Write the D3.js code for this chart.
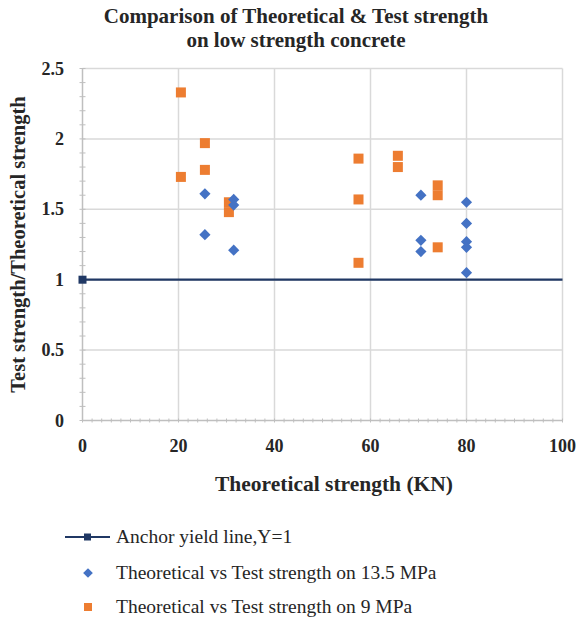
<!DOCTYPE html>
<html><head><meta charset="utf-8">
<script src="https://cdn.jsdelivr.net/npm/d3@7"></script>
<style>body{margin:0;background:#fff}svg{display:block}</style>
</head><body>
<script>
// Data
const blueX = [25.5, 25.5, 31.5, 31.5, 31.5, 70.5, 70.5, 70.5, 80, 80, 80, 80, 80];
const blueY = [1.61, 1.32, 1.57, 1.53, 1.21, 1.60, 1.28, 1.20, 1.55, 1.40, 1.27, 1.23, 1.05];
const orangeX = [20.5, 20.5, 25.5, 25.5, 30.5, 30.5, 57.5, 57.5, 57.5, 65.7, 65.7, 74, 74, 74];
const orangeY = [2.33, 1.73, 1.97, 1.78, 1.55, 1.48, 1.86, 1.57, 1.12, 1.88, 1.80, 1.67, 1.60, 1.23];
const lineX = [0, 100];
const lineY = [1, 1];
const xTicks = [0, 20, 40, 60, 80, 100];
const yTicks = [0, 0.5, 1, 1.5, 2, 2.5];
const legendLabels = ["Anchor yield line,Y=1", "Theoretical vs Test strength on 13.5 MPa", "Theoretical vs Test strength on 9 MPa"];

const W = 581, H = 620;
const svg = d3.select("body").append("svg").attr("width", W).attr("height", H);
const font = "'Times New Roman','Liberation Serif',serif";
const x = d3.scaleLinear().domain([0, 100]).range([82.5, 562.5]);
const y = d3.scaleLinear().domain([0, 2.5]).range([420.5, 68.5]);

// gridlines
svg.append("g").selectAll("line.v").data(xTicks.slice(1)).join("line")
  .attr("x1", d => x(d)).attr("x2", d => x(d)).attr("y1", y(0)).attr("y2", y(2.5))
  .attr("stroke", "#d9d9d9").attr("stroke-width", 1.5);
svg.append("g").selectAll("line.h").data(yTicks.slice(1)).join("line")
  .attr("x1", x(0)).attr("x2", x(100)).attr("y1", d => y(d)).attr("y2", d => y(d))
  .attr("stroke", "#d9d9d9").attr("stroke-width", 1.5);

// axes
const axisColor = "#bfbfbf";
const xMinor = d3.range(0, 100.001, 2);
const yMinor = d3.range(0, 2.5001, 0.1);
const ax = svg.append("g");
ax.append("line").attr("x1", x(0)).attr("x2", x(100)).attr("y1", y(0)).attr("y2", y(0)).attr("stroke", axisColor).attr("stroke-width", 1.5);
ax.append("line").attr("x1", x(0)).attr("x2", x(0)).attr("y1", y(0)).attr("y2", y(2.5)).attr("stroke", axisColor).attr("stroke-width", 1.5);
ax.selectAll("line.xm").data(xMinor).join("line")
  .attr("x1", d => x(d)).attr("x2", d => x(d)).attr("y1", y(0) - 2).attr("y2", y(0) + 2).attr("stroke", axisColor);
ax.selectAll("line.ym").data(yMinor).join("line")
  .attr("x1", x(0) - 3).attr("x2", x(0) + 3).attr("y1", d => y(d)).attr("y2", d => y(d)).attr("stroke", axisColor);

// tick labels
svg.append("g").selectAll("text").data(xTicks).join("text")
  .attr("x", d => x(d)).attr("y", 452).attr("text-anchor", "middle")
  .attr("font-family", font).attr("font-weight", "bold").attr("font-size", 18).attr("fill", "#262626")
  .text(d => d);
svg.append("g").selectAll("text").data(yTicks).join("text")
  .attr("x", 64).attr("y", d => y(d) + 6).attr("text-anchor", "end")
  .attr("font-family", font).attr("font-weight", "bold").attr("font-size", 18).attr("fill", "#262626")
  .text(d => d);

// titles
const title = svg.append("text").attr("text-anchor", "middle").attr("font-family", font)
  .attr("font-weight", "bold").attr("font-size", 21).attr("fill", "#262626");
title.append("tspan").attr("x", 296).attr("y", 23).text("Comparison of Theoretical & Test strength");
title.append("tspan").attr("x", 296).attr("y", 47).text("on low strength concrete");
svg.append("text").attr("x", 334).attr("y", 491).attr("text-anchor", "middle")
  .attr("font-family", font).attr("font-weight", "bold").attr("font-size", 21.5).attr("fill", "#262626")
  .text("Theoretical strength (KN)");
svg.append("text").attr("transform", `translate(25,${(y(0) + y(2.5)) / 2}) rotate(-90)`).attr("text-anchor", "middle")
  .attr("font-family", font).attr("font-weight", "bold").attr("font-size", 20.5).attr("fill", "#262626")
  .text("Test strength/Theoretical strength");

// yield line
const navy = "#203864";
const lineData = lineX.map((d, i) => [d, lineY[i]]);
svg.append("path").datum(lineData)
  .attr("d", d3.line().x(d => x(d[0])).y(d => y(d[1])))
  .attr("stroke", navy).attr("stroke-width", 2.2).attr("fill", "none");
svg.append("rect").attr("x", x(lineX[0]) - 4).attr("y", y(lineY[0]) - 4).attr("width", 8).attr("height", 8).attr("fill", navy);

// orange squares
const orange = "#ED7D31", blue = "#4472C4";
svg.append("g").selectAll("rect").data(orangeX.map((d, i) => [d, orangeY[i]])).join("rect")
  .attr("x", d => x(d[0]) - 5).attr("y", d => y(d[1]) - 5).attr("width", 10).attr("height", 10).attr("fill", orange);
// blue diamonds
const diamond = d3.symbol().type(d3.symbolDiamond2).size(80);
svg.append("g").selectAll("path").data(blueX.map((d, i) => [d, blueY[i]])).join("path")
  .attr("d", diamond).attr("transform", d => `translate(${x(d[0])},${y(d[1])})`).attr("fill", blue);

// legend
const lg = svg.append("g").attr("font-family", font).attr("font-size", 19.5).attr("fill", "#262626");
const rows = [537, 573, 607];
lg.append("line").attr("x1", 65).attr("x2", 110).attr("y1", rows[0]).attr("y2", rows[0]).attr("stroke", navy).attr("stroke-width", 2.2);
lg.append("rect").attr("x", 84).attr("y", rows[0] - 3.5).attr("width", 7).attr("height", 7).attr("fill", navy);
lg.append("path").attr("d", d3.symbol().type(d3.symbolDiamond2).size(60)).attr("transform", `translate(88,${rows[1]})`).attr("fill", blue);
lg.append("rect").attr("x", 84).attr("y", rows[2] - 4).attr("width", 8).attr("height", 8).attr("fill", orange);
lg.selectAll("text").data(legendLabels).join("text")
  .attr("x", 116).attr("y", (d, i) => rows[i] + 6).text(d => d);
</script>
</body></html>
